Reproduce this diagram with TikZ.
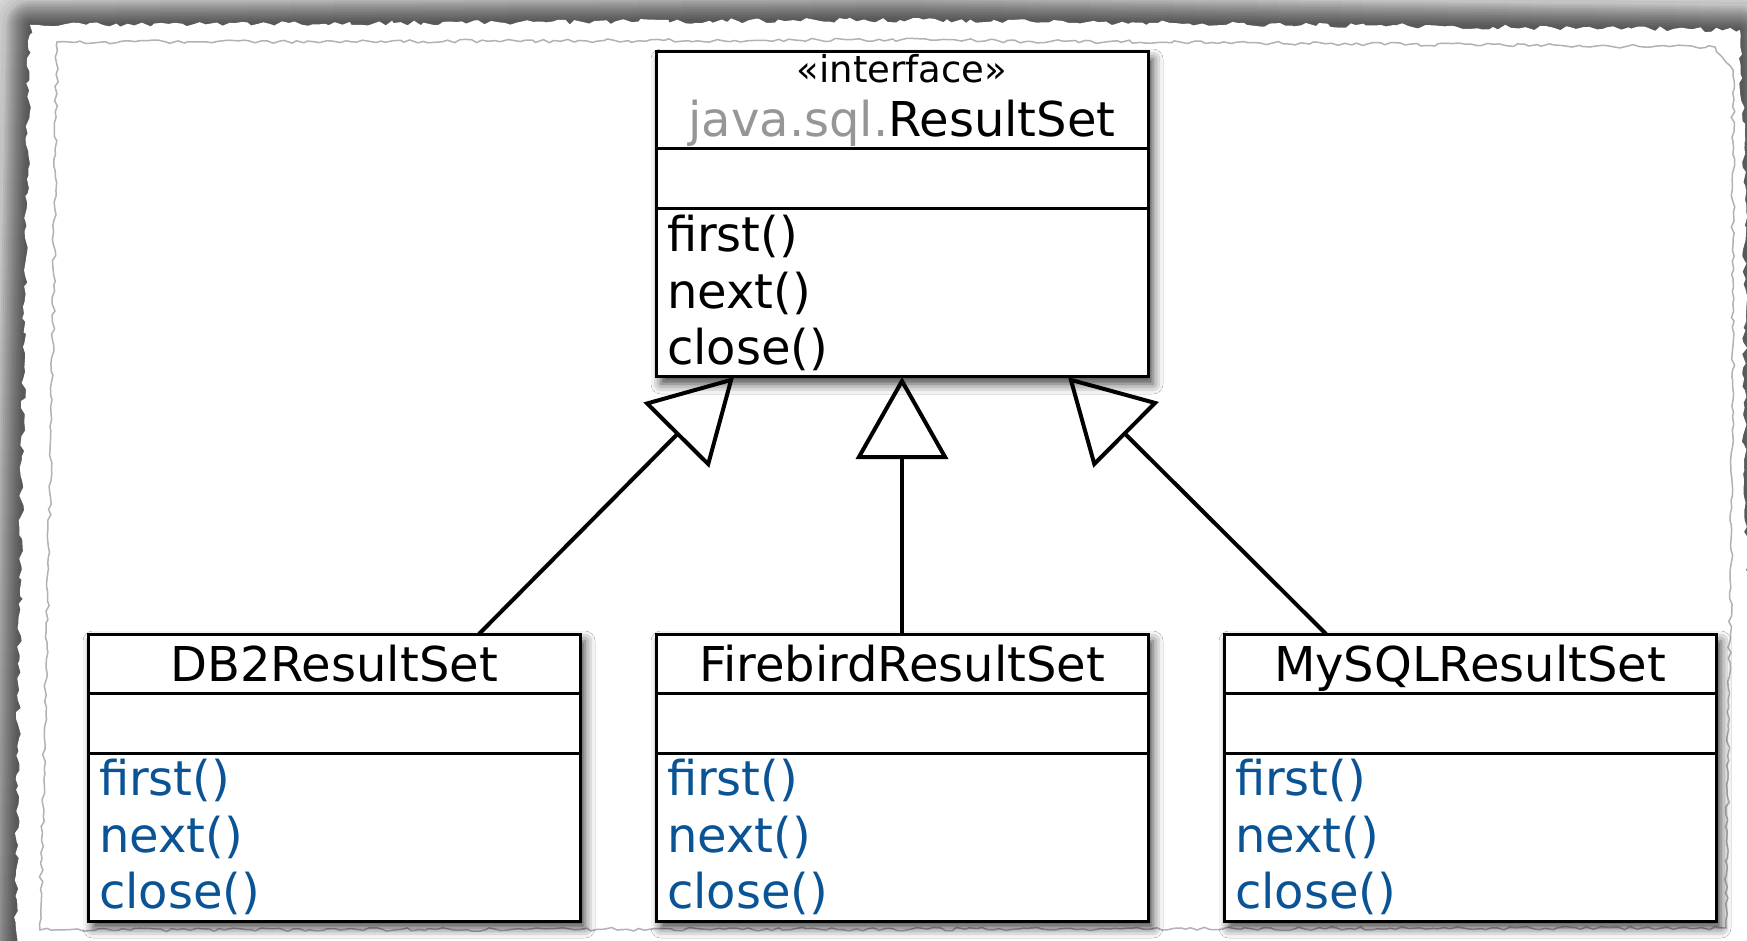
\documentclass[tikz,border=0pt]{standalone}
\usepackage{fontspec}
\setmainfont{DejaVu Sans}
\usepackage{tikz}
\usetikzlibrary{positioning, arrows.meta, shadows.blur, decorations.pathmorphing}
\definecolor{pkggray}{RGB}{150,150,150}
\definecolor{implblue}{RGB}{10,84,150}
\tikzstyle{classpart}=[draw, line width=1.5pt, outer sep=0pt, minimum width=246pt, fill=white]
\tikzstyle{classbox}=[classpart, inner sep=0pt, blur shadow={shadow xshift=2.5pt, shadow yshift=-3.5pt, shadow blur radius=5pt, shadow opacity=75}]
\tikzstyle{classhead}=[classpart, inner sep=0pt, align=center, font=\fontsize{24}{27}\selectfont]
\tikzstyle{implhead}=[classhead, minimum height=29.5pt, text height=18.2pt, text depth=0pt]
\tikzstyle{classattr}=[classpart, minimum height=30pt]
\tikzstyle{classops}=[classpart, minimum height=84pt, text width=235pt, inner xsep=5.5pt, inner ysep=0pt, align=left, font=\fontsize{24}{28.25}\selectfont]
\tikzstyle{realizes}=[line width=2pt, -{Triangle[open, length=41pt, width=46pt]}]
\tikzstyle{torn}=[decorate, decoration={random steps, segment length=3pt, amplitude=1.3pt}]

\begin{document}
\begin{tikzpicture}[x=0.5pt, y=-0.5pt]
    \useasboundingbox (0,0) rectangle (1747,941);
    \clip (0,0) rectangle (1747,941);
% Paper
    \fill[white] (0,0) rectangle (1747,941);
    \foreach \w in {2,4,...,24}
        \draw[line width=\w pt, line join=round, black, opacity=0.06] (30,25) -- (900,20) -- (1740,30) -- (1745,200) -- (1744,480) -- (1755,700) -- (1755,960) -- (15,960) -- (22,480) -- cycle;
    \foreach \w in {28,32,...,56}
        \draw[line width=\w pt, line join=round, black, opacity=0.03] (30,25) -- (900,20) -- (1740,30) -- (1745,200) -- (1744,480) -- (1755,700) -- (1755,960) -- (15,960) -- (22,480) -- cycle;
    \pgfmathsetseed{11}
    \fill[white, torn] (30,25) -- (900,20) -- (1740,30) -- (1745,200) -- (1744,480) -- (1755,700) -- (1755,960) -- (15,960) -- (22,480) -- cycle;
    \draw[gray!60, line width=0.75pt, torn, decoration={amplitude=0.9pt}] (57,42) -- (900,40) -- (1715,47) -- (1733,70) -- (1733,400) -- (1726,928) -- (40,930) -- (52,400) -- cycle;
% Interface
    \node[classbox, minimum height=162.5pt, anchor=north] (rs) at (902,52) {};
    \node[classhead, minimum height=48.5pt, anchor=north] (rsHead) at (rs.north) {{\fontsize{18.5}{27}\selectfont «interface»}\\{\color{pkggray}java.sql.}ResultSet};
    \node[classattr, below=0pt of rsHead] (rsAttr) {};
    \node[classops, below=0pt of rsAttr] (rsOps) {first()\\next()\\close()};
% Implementations
    \node[classbox, minimum height=143.5pt, anchor=north] (fb) at (902,634) {};
    \node[implhead, anchor=north] (fbHead) at (fb.north) {FirebirdResultSet};
    \node[classattr, below=0pt of fbHead] (fbAttr) {};
    \node[classops, text=implblue, below=0pt of fbAttr] (fbOps) {first()\\next()\\close()};
    \node[classbox, minimum height=143.5pt, left=38pt of fb] (db2) {};
    \node[implhead, anchor=north] (db2Head) at (db2.north) {DB2ResultSet};
    \node[classattr, below=0pt of db2Head] (db2Attr) {};
    \node[classops, text=implblue, below=0pt of db2Attr] (db2Ops) {first()\\next()\\close()};
    \node[classbox, minimum height=143.5pt, right=38pt of fb] (my) {};
    \node[implhead, anchor=north] (myHead) at (my.north) {MySQLResultSet};
    \node[classattr, below=0pt of myHead] (myAttr) {};
    \node[classops, text=implblue, below=0pt of myAttr] (myOps) {first()\\next()\\close()};
% Realizations
    \draw[realizes] ([xshift=195.5pt]db2.north west) -- ([xshift=39pt]rs.south west);
    \draw[realizes] (fb.north) -- (rs.south);
    \draw[realizes] ([xshift=51pt]my.north west) -- ([xshift=-40pt]rs.south east);
\end{tikzpicture}
\end{document}
